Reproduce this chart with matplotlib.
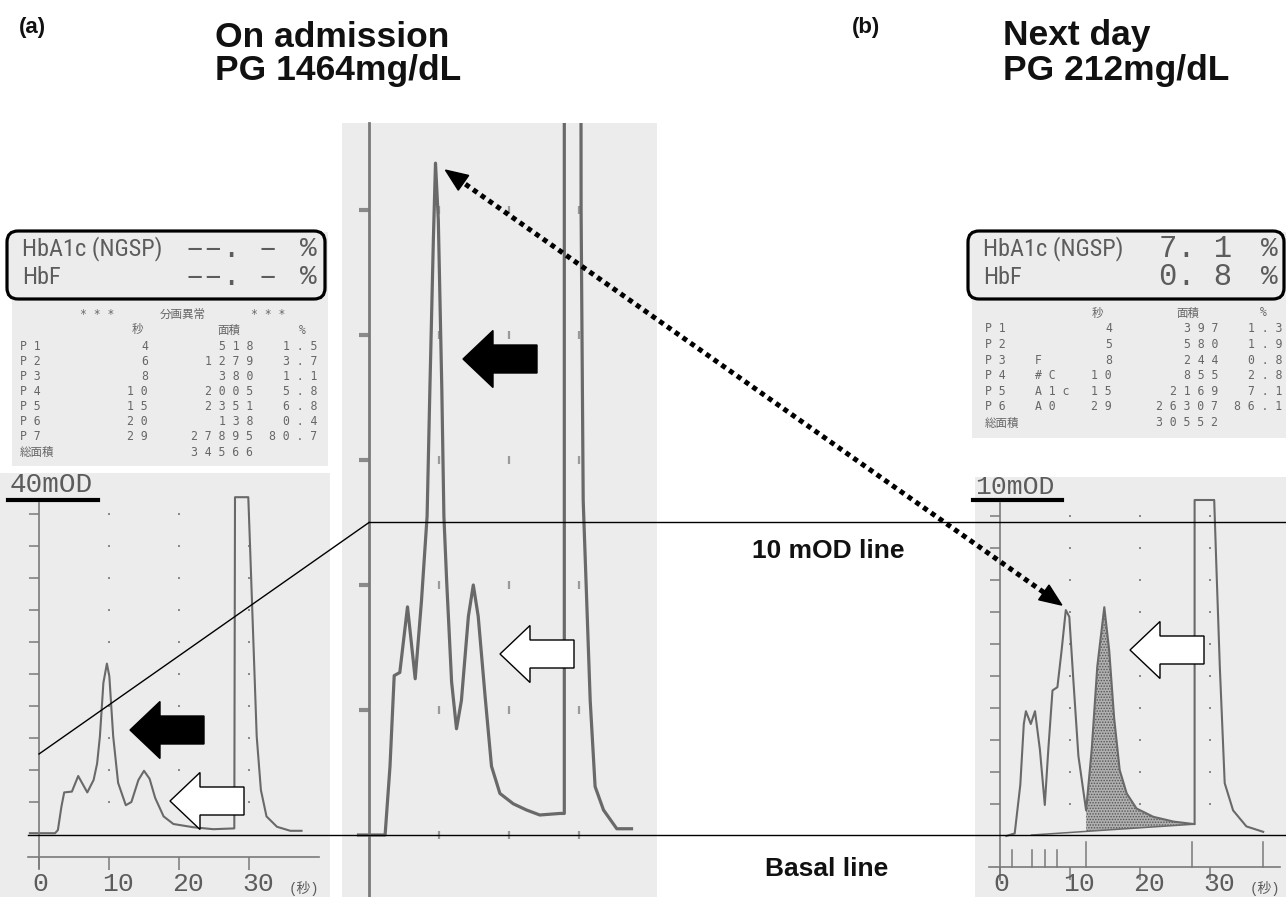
import matplotlib
matplotlib.use("Agg")
import matplotlib.pyplot as plt
from matplotlib import font_manager
from matplotlib.patches import Rectangle, Polygon, FancyBboxPatch
import numpy as np

# ---- traces read off the HPLC print-outs (time in s, absorbance in mOD) ----
# (a) on admission, 40 mOD full scale
adm_t = [-1.3, 2.3, 2.7, 3.2, 3.6, 4.7, 5.6, 6.9, 7.8, 8.3, 8.7, 9.2, 9.7, 10.05, 10.6,
         11.3, 12.4, 13.2, 14.2, 15.0, 15.8, 16.6, 17.8, 19.2, 22.0, 24.9, 27.9, 28.0,
         29.9, 30.1, 30.6, 31.1, 31.7, 32.5, 34.0, 35.9, 37.5]
adm_od = [0.1, 0.1, 0.5, 3.4, 5.2, 5.3, 7.25, 5.2, 6.75, 8.8, 12.2, 18.9, 21.3, 19.7, 12.2,
          6.4, 3.6, 4.0, 6.75, 7.9, 6.9, 4.5, 2.2, 1.25, 0.85, 0.6, 0.7, 42.1,
          42.1, 37.2, 24.7, 12.2, 5.5, 2.2, 0.9, 0.4, 0.4]

# same run, stretched vertically (middle strip)
zoom_t = [-1.5, 2.3, 3.0, 3.6, 4.4, 5.5, 6.6, 7.5, 8.3, 8.7, 9.2, 9.5, 9.9, 10.4, 10.7,
          11.1, 11.8, 12.5, 13.2, 14.2, 14.9, 15.6, 16.6, 17.5, 18.7, 20.6, 22.5, 24.4,
          27.3, 27.9, 27.9, 30.2, 30.3, 30.6, 31.1, 31.6, 32.3, 33.5, 35.4, 37.5]
zoom_od = [0.0, 0.0, 2.2, 5.1, 5.2, 7.3, 5.0, 7.5, 10.2, 14.3, 19.1, 21.5, 19.7, 14.3, 10.2,
           8.1, 4.9, 3.4, 4.3, 7.0, 8.0, 7.0, 4.4, 2.2, 1.33, 1.0, 0.8, 0.64,
           0.69, 0.69, 42.0, 42.0, 20.0, 10.7, 7.5, 4.3, 1.55, 0.8, 0.2, 0.2]

# (b) next day, 10 mOD full scale
nd_t = [0.9, 2.1, 2.9, 3.4, 3.7, 4.4, 5.0, 5.7, 6.4, 6.9, 7.5, 8.2, 8.8, 9.4, 9.9, 10.5,
        11.2, 12.3, 13.1, 13.9, 14.9, 15.6, 16.3, 17.1, 18.1, 19.5, 21.9, 24.8, 27.8,
        27.8, 30.6, 30.9, 31.4, 32.1, 33.3, 35.2, 37.6]
nd_od = [0.0, 0.08, 1.6, 3.5, 3.9, 3.5, 3.9, 2.7, 0.97, 2.7, 4.55, 4.65, 5.8, 7.06, 6.85, 4.8,
         2.5, 0.8, 2.7, 5.3, 7.15, 5.8, 3.7, 2.06, 1.33, 0.86, 0.6, 0.45, 0.37,
         10.5, 10.5, 8.5, 5.3, 1.65, 0.8, 0.3, 0.13]
a1c_base_t = [4.5, 27.8]      # integration baseline drawn by the analyser
a1c_base_od = [0.03, 0.37]
a1c_start = 12.3
peak_marks = [1.7, 4.5, 6.4, 8.1, 12.3, 27.4, 37.6]
peak_tall = [False, False, False, False, True, True, True]

sec_ticks = [0, 10, 20, 30]

# ---- report tables ----
adm_hb = ["--.-", "--.-"]
adm_peaks = ["P1", "P2", "P3", "P4", "P5", "P6", "P7"]
adm_sec = [4, 6, 8, 10, 15, 20, 29]
adm_area = [518, 1279, 380, 2005, 2351, 138, 27895]
adm_pct = ["1.5", "3.7", "1.1", "5.8", "6.8", "0.4", "80.7"]
adm_total = 34566

nd_hb = ["7.1", "0.8"]
nd_peaks = ["P1", "P2", "P3", "P4", "P5", "P6"]
nd_names = ["", "", "F", "#C", "A1c", "A0"]
nd_sec = [4, 5, 8, 10, 15, 29]
nd_area = [397, 580, 244, 855, 2169, 26307]
nd_pct = ["1.3", "1.9", "0.8", "2.8", "7.1", "86.1"]
nd_total = 30552

W, H = 1286, 897
PANEL = "#ececec"
TRACE = "#696969"
AXC = "#7a7a7a"
TXT = "#5c5c5c"

installed = {f.name for f in font_manager.fontManager.ttflist}
NARROW = next((f for f in ["Liberation Sans Narrow", "Roboto Condensed", "Open Sans Condensed"]
               if f in installed), "Liberation Sans")
MONO = ["DejaVu Sans Mono", "Noto Sans CJK JP"]
PRN = ["Liberation Mono", "Noto Sans CJK JP"]
plt.rcParams["hatch.linewidth"] = 0.7

fig = plt.figure(figsize=(W / 100, H / 100), dpi=100)


def chrom_axes(box, origin, scale):
    # box in pixels from top-left, origin = pixel where 0 s / 0 mOD sits
    x0, y0, x1, y1 = box
    ax = fig.add_axes([x0 / W, 1 - y1 / H, (x1 - x0) / W, (y1 - y0) / H])
    ox, oy = origin
    sx, sy = scale
    ax.set_xlim((x0 - ox) / sx, (x1 - ox) / sx)
    ax.set_ylim((oy - y1) / sy, (oy - y0) / sy)
    ax.set_facecolor(PANEL)
    for s in ["top", "right", "bottom"]:
        ax.spines[s].set_visible(False)
    ax.spines["left"].set_position(("data", 0))
    ax.spines["left"].set_color(AXC)
    ax.set_xticks([])
    ax.set_yticks([])
    return ax


def trace_axis(ax, yticks, ybounds, axis_y, lab_y):
    ax.spines["left"].set_bounds(*ybounds)
    ax.spines["left"].set_linewidth(1.2)
    b = ax.spines["bottom"]
    b.set_visible(True)
    b.set_position(("data", axis_y))
    b.set_bounds(-1.6, 40)
    b.set_color(AXC)
    b.set_linewidth(1.2)
    ax.set_yticks(yticks)
    ax.set_yticklabels([])
    ax.set_xticks(sec_ticks)
    ax.set_xticklabels([])
    ax.tick_params(axis="y", length=7.5, width=1.1, color=AXC)
    ax.tick_params(axis="x", length=9.5, width=1.1, color=AXC)
    for t in sec_ticks:
        ax.text(t - 1.0, lab_y, str(t), ha="left", va="bottom", family=PRN, size=19, color=TXT)
    ax.text(40.1, lab_y, "(秒)", ha="right", va="bottom", family=PRN, size=10, color=TXT)
    gx, gy = np.meshgrid(sec_ticks[1:], yticks)
    ax.plot(gx.ravel(), gy.ravel(), ls="none", marker="s", ms=1.5, mew=0, color="#8a8a8a")


ax_a = chrom_axes((0, 473, 330, 897), (39, 834), (7, 8))
ax_m = chrom_axes((342, 123, 657, 897), (369, 835), (7, 31.25))
ax_b = chrom_axes((975, 477, 1286, 897), (1000, 836), (7, 32))

trace_axis(ax_a, list(range(4, 41, 4)), (-4.25, 41.4), -2.9, -7.8)
trace_axis(ax_b, list(range(1, 11)), (-1.375, 10.4), -0.97, -1.89)

# middle strip: heavy ticks, stretched grid dots
ax_m.spines["left"].set_bounds(*ax_m.get_ylim())
ax_m.spines["left"].set_linewidth(2)
ax_m.set_yticks([4, 8, 12, 16, 20])
ax_m.set_yticklabels([])
ax_m.tick_params(axis="y", length=7.5, width=3, color="#8a8a8a")
gx, gy = np.meshgrid(sec_ticks[1:], [0, 4, 8, 12, 16, 20])
ax_m.plot(gx.ravel(), gy.ravel(), ls="none", marker="|", ms=6, mew=1.6, color="#9a9a9a")

ax_a.plot(adm_t, adm_od, color=TRACE, lw=1.5)
ax_m.plot(zoom_t, zoom_od, color=TRACE, lw=2.3)
ax_b.plot(nd_t, nd_od, color=TRACE, lw=1.5)

# shaded A1c peak above the integration baseline
seg = [(t, v) for t, v in zip(nd_t, nd_od) if a1c_start <= t < a1c_base_t[1]]
seg_t = np.array([s[0] for s in seg] + [a1c_base_t[1]])
seg_od = np.array([s[1] for s in seg] + [a1c_base_od[1]])
ax_b.fill_between(seg_t, np.interp(seg_t, a1c_base_t, a1c_base_od), seg_od,
                  facecolor="#b0b0b0", edgecolor="#555555", hatch="......", lw=0)
ax_b.plot(a1c_base_t, a1c_base_od, color=TRACE, lw=1.1)
for t, tall in zip(peak_marks, peak_tall):
    ax_b.plot([t, t], [-0.97, -0.19 if tall else -0.44], color=AXC, lw=1.1)

# ---- overlay in pixel coordinates ----
ov = fig.add_axes([0, 0, 1, 1], zorder=5)
ov.set_xlim(0, W)
ov.set_ylim(H, 0)
ov.axis("off")
ov.patch.set_visible(False)


def px(ax, t, v):
    x, y = ax.transData.transform((t, v))
    return np.array([x, H - y])


# report panels
for x0, y0, x1, y1 in [(12, 232, 328, 466), (972, 232, 1286, 438)]:
    ov.add_patch(Rectangle((x0, y0), x1 - x0, y1 - y0, fc=PANEL, ec="none"))
for x0, x1 in [(7, 325), (968, 1284)]:
    ov.add_patch(FancyBboxPatch((x0, 231), x1 - x0, 68, boxstyle="round,pad=0,rounding_size=11",
                                fc=PANEL, ec="black", lw=2.3))


def hb_fmt(s):
    return s.replace("-", "–").replace(".", ". ")


def sp(s):
    return " ".join(str(s))


for (lx, vx, pxr), vals in [((22, 277, 317), adm_hb), ((983, 1232, 1278), nd_hb)]:
    for y, lab, v in zip([249, 277], ["HbA1c (NGSP)", "HbF"], vals):
        ov.text(lx, y, lab, family=NARROW, size=17.5, color=TXT, va="center")
        ov.text(vx, y, hb_fmt(v), family=PRN, size=22, color=TXT, va="center", ha="right")
        ov.text(pxr, y, "%", family=PRN, size=20, color=TXT, va="center", ha="right")

tk = dict(family=MONO, size=8.3, color="#666666", va="center")
# left table
ov.text(97, 314, "* * *", ha="center", **tk)
ov.text(183, 314, "分画異常", ha="center", **tk)
ov.text(268, 314, "* * *", ha="center", **tk)
ov.text(137, 330, "秒", ha="center", **tk)
ov.text(229, 330, "面積", ha="center", **tk)
ov.text(302, 330, "%", ha="center", **tk)
for i, (p, s, a, c) in enumerate(zip(adm_peaks, adm_sec, adm_area, adm_pct)):
    y = 346 + 15.1 * i
    ov.text(20, y, sp(p), ha="left", **tk)
    ov.text(148, y, sp(s), ha="right", **tk)
    ov.text(253, y, sp(a), ha="right", **tk)
    ov.text(317, y, sp(c), ha="right", **tk)
ov.text(20, 452, "総面積", ha="left", **tk)
ov.text(253, 452, sp(adm_total), ha="right", **tk)

# right table
ov.text(1097, 313, "秒", ha="center", **tk)
ov.text(1188, 313, "面積", ha="center", **tk)
ov.text(1263, 313, "%", ha="center", **tk)
for i, (p, n, s, a, c) in enumerate(zip(nd_peaks, nd_names, nd_sec, nd_area, nd_pct)):
    y = 329 + 15.6 * i
    ov.text(985, y, sp(p), ha="left", **tk)
    ov.text(1035, y, sp(n), ha="left", **tk)
    ov.text(1112, y, sp(s), ha="right", **tk)
    ov.text(1218, y, sp(a), ha="right", **tk)
    ov.text(1282, y, sp(c), ha="right", **tk)
ov.text(985, 423, "総面積", ha="left", **tk)
ov.text(1218, 423, sp(nd_total), ha="right", **tk)

# full-scale labels
ov.text(10, 492, "40mOD", family=PRN, size=20, color=TXT, va="baseline")
ov.plot([8, 98], [500, 500], color="black", lw=3)
ov.text(975, 494, "10mOD", family=PRN, size=19, color=TXT, va="baseline")
ov.plot([973, 1062], [500, 500], color="black", lw=3)

# 10 mOD and basal reference lines
ten_a = px(ax_a, 0, 10)
ten_m = px(ax_m, 0, 10)
base_m = px(ax_m, 0, 0)
ov.plot([ten_a[0], ten_m[0]], [ten_a[1], ten_m[1]], color="black", lw=1)
ov.plot([ten_m[0], W], [ten_m[1], ten_m[1]], color="black", lw=1)
ov.plot([28, W], [base_m[1], base_m[1]], color="black", lw=1)

# dotted double arrow between the two HbC-like peaks
p_top = px(ax_m, 9.5, 21.5) + [10, 7]
p_bot = px(ax_b, 9.4, 7.06) + [-4, -5]
u = (p_top - p_bot) / np.hypot(*(p_top - p_bot))
n = np.array([-u[1], u[0]])
L, hw = 22, 9
a0, a1 = p_bot + L * u, p_top - L * u
ov.plot([a0[0], a1[0]], [a0[1], a1[1]], color="black", lw=3.6, ls=(0, (1, 0.9)),
        dash_capstyle="butt")
for tip, d in [(p_top, u), (p_bot, -u)]:
    base = tip - L * d
    ov.add_patch(Polygon([tip, base + hw * n, base - hw * n], closed=True, fc="black", ec="black"))


def block_arrow(tx, ty, fc, length=74, height=57, head=30, shaft=28):
    pts = [(tx, ty), (tx + head, ty - height / 2), (tx + head, ty - shaft / 2),
           (tx + length, ty - shaft / 2), (tx + length, ty + shaft / 2),
           (tx + head, ty + shaft / 2), (tx + head, ty + height / 2)]
    ov.add_patch(Polygon(pts, closed=True, fc=fc, ec="black", lw=1))


block_arrow(130, 730, "black")
block_arrow(170, 801, "white")
block_arrow(463, 359, "black")
block_arrow(500, 654, "white")
block_arrow(1130, 650, "white")

# titles and labels
bold = dict(family="Liberation Sans", weight="bold", color="#111111")
ov.text(19, 27, "(a)", size=16, va="center", **bold)
ov.text(852, 27, "(b)", size=16, va="center", **bold)
ov.text(215, 47, "On admission", size=25.5, va="baseline", **bold)
ov.text(215, 80, "PG 1464mg/dL", size=25.5, va="baseline", **bold)
ov.text(1003, 45, "Next day", size=25.5, va="baseline", **bold)
ov.text(1003, 80, "PG 212mg/dL", size=25.5, va="baseline", **bold)
ov.text(828, 551, "10 mOD line", size=19, ha="center", va="center", **bold)
ov.text(827, 869, "Basal line", size=19, ha="center", va="center", **bold)

fig.savefig("out.png", dpi=100, facecolor="white")
